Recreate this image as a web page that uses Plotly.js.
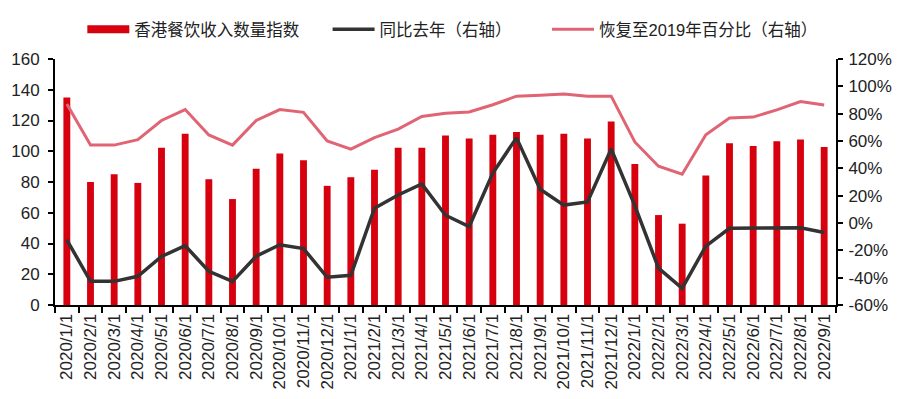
<!DOCTYPE html>
<html>
<head>
<meta charset="utf-8">
<script src="https://cdn.plot.ly/plotly-3.0.1.min.js"></script>
<style>html,body{margin:0;padding:0;background:#fff;}#chart{width:905px;height:399px;}</style>
</head>
<body>
<div id="chart"></div>
<script>
const months = ["2020/1/1","2020/2/1","2020/3/1","2020/4/1","2020/5/1","2020/6/1","2020/7/1","2020/8/1","2020/9/1","2020/10/1","2020/11/1","2020/12/1",
"2021/1/1","2021/2/1","2021/3/1","2021/4/1","2021/5/1","2021/6/1","2021/7/1","2021/8/1","2021/9/1","2021/10/1","2021/11/1","2021/12/1",
"2022/1/1","2022/2/1","2022/3/1","2022/4/1","2022/5/1","2022/6/1","2022/7/1","2022/8/1","2022/9/1"];
const indexValues = [135,80,85,79.4,102.2,111.4,81.8,68.9,88.6,98.5,94.2,77.5,
83.1,88,102.2,102.2,110.2,108.3,110.8,112.6,110.8,111.4,108.3,119.4,
91.7,58.5,52.9,84.3,105.2,103.4,106.5,107.7,102.8];
const yoyPct = [-12.3,-42.7,-42.7,-39,-24.5,-16.6,-35.3,-42.7,-24.3,-15.9,-18.7,-39.7,
-38.3,10.8,20.5,28.6,5.7,-2.6,36.6,62.3,24.7,13.1,15.4,54.2,
12.7,-33,-47.8,-16.9,-3.9,-3.9,-3.9,-3.5,-6.9];
const recoveryPct = [87,57,57,61,75,83,64.4,57,75,83,81,60,
54,62.5,68.7,78,80.3,81.2,86.5,92.8,93.5,94.4,92.8,92.8,
59.3,41.5,35.7,64.6,76.8,77.5,82.8,88.8,86.3];
const leftTicks = [0,20,40,60,80,100,120,140,160];
const rightTicks = [-60,-40,-20,0,20,40,60,80,100,120];

const FONT = "'Liberation Sans', Arial, 'Noto Sans CJK SC', sans-serif";
const RED = "#d7000f", BLACK = "#333333", PINK = "#e06474";

const traces = [
  {type:"bar", x:months, y:indexValues, marker:{color:RED}, showlegend:false, hoverinfo:"skip"},
  {type:"scatter", mode:"lines", x:[null], y:[null], line:{color:RED, width:8}, name:"香港餐饮收入数量指数", legend:"legend"},
  {type:"scatter", mode:"lines", x:months, y:yoyPct, yaxis:"y2", line:{color:BLACK, width:3.5}, name:"同比去年（右轴）", legend:"legend2"},
  {type:"scatter", mode:"lines", x:months, y:recoveryPct, yaxis:"y2", line:{color:PINK, width:3}, name:"恢复至2019年百分比（右轴）", legend:"legend3"}
];

const legendBase = {orientation:"h", yanchor:"middle", y:1.12, xanchor:"left", bgcolor:"rgba(0,0,0,0)", font:{family:FONT, size:16.5, color:"#222"}, itemwidth:42};

const layout = {
  width:905, height:399,
  margin:{l:55, r:69, t:45, b:94},
  paper_bgcolor:"#fff", plot_bgcolor:"#fff",
  font:{family:FONT, size:17, color:"#222"},
  bargap:0.71,
  showlegend:true,
  legend:Object.assign({}, legendBase, {x:0.035}),
  legend2:Object.assign({}, legendBase, {x:0.349}),
  legend3:Object.assign({}, legendBase, {x:0.63}),
  xaxis:{type:"category", tickangle:-90, showgrid:false, zeroline:false, showline:true, linecolor:"#000", linewidth:2,
         ticks:"outside", tickson:"boundaries", ticklen:6, tickwidth:2, tickcolor:"#000",
         tickfont:{family:FONT, size:17, color:"#222"}, automargin:false},
  yaxis:{range:[0,160], tickvals:leftTicks, showgrid:false, zeroline:false, showline:true, linecolor:"#000", linewidth:2,
         ticks:"outside", ticklen:5, tickwidth:2, tickcolor:"#000", ticklabelstandoff:5, tickfont:{family:FONT, size:17, color:"#222"}, automargin:false},
  yaxis2:{range:[-60,120], tickvals:rightTicks, ticktext:rightTicks.map(v=>v+"%"), overlaying:"y", side:"right",
          showgrid:false, zeroline:false, showline:true, linecolor:"#000", linewidth:2,
          ticks:"outside", ticklen:5, tickwidth:2, tickcolor:"#000", ticklabelstandoff:2, tickfont:{family:FONT, size:17, color:"#222"}, automargin:false}
};

Plotly.newPlot("chart", traces, layout, {displayModeBar:false, staticPlot:true});
</script>
</body>
</html>
